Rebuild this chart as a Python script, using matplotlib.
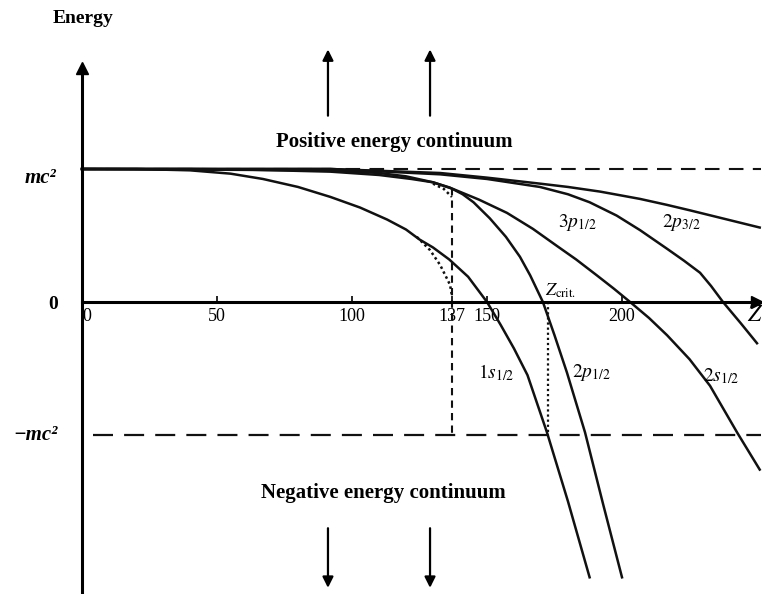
import numpy as np
import matplotlib
matplotlib.use('Agg')
import matplotlib.pyplot as plt

plt.rcParams['font.family'] = ['Liberation Serif', 'DejaVu Serif']
plt.rcParams['mathtext.fontset'] = 'stix'

# bound states (Z, E in units of mc^2)
z_1s = [0, 20, 40, 55, 67, 80, 92, 103, 113, 120, 125, 130, 136, 143, 150, 155, 160, 165, 172.2, 180, 188]
e_1s = [1.0, 1.0, 0.99, 0.965, 0.925, 0.865, 0.79, 0.71, 0.62, 0.545, 0.47, 0.41, 0.32, 0.19, 0.0,
        -0.17, -0.35, -0.55, -0.98, -1.5, -2.07]

z_2p1 = [0, 40, 62, 92, 110, 122, 130, 136.3, 141, 145, 151, 157, 162.2, 166, 170.7, 175, 179.6, 186.3, 193, 200]
e_2p1 = [1.0, 1.0, 0.995, 0.98, 0.955, 0.925, 0.9, 0.86, 0.81, 0.75, 0.63, 0.49, 0.34, 0.2, 0.0,
         -0.25, -0.53, -0.98, -1.52, -2.07]

z_2s = [0, 92, 110, 120, 130, 137.4, 147, 157.4, 167, 176, 183, 190.7, 197, 203, 210, 216.7, 225, 232.6, 242.6, 251]
e_2s = [1.0, 0.99, 0.97, 0.945, 0.9, 0.85, 0.77, 0.67, 0.55, 0.42, 0.32, 0.2, 0.1, 0.0,
        -0.12, -0.25, -0.43, -0.63, -0.98, -1.26]

z_3p1 = [0, 92, 132.6, 150, 169.6, 180, 188, 198, 206.7, 216.7, 223, 228.9, 233, 237.4, 244, 250]
e_3p1 = [1.0, 1.0, 0.96, 0.925, 0.865, 0.81, 0.75, 0.65, 0.54, 0.40, 0.31, 0.22, 0.12, 0.0, -0.16, -0.31]

z_2p3 = [0, 92, 132.6, 150, 169.6, 180, 191.9, 200, 206.7, 216.7, 225, 235, 243, 251]
e_2p3 = [1.0, 1.0, 0.97, 0.935, 0.89, 0.865, 0.83, 0.80, 0.775, 0.73, 0.69, 0.64, 0.6, 0.56]

# point-nucleus (Sommerfeld) ends, dotted
z_1s_pt = [124, 128.9, 132.6, 136.3, 137]
e_1s_pt = [0.49, 0.39, 0.28, 0.13, 0.05]
z_2p_pt = [130, 134, 137]
e_2p_pt = [0.89, 0.85, 0.79]

z_alpha = 137
z_crit = 172.6

tick_z = [0, 50, 100, 137, 150, 200]
tick_lbl = ['0', '50', '100', '137', '150', '200']

fig = plt.figure(figsize=(7.62, 5.94), dpi=100)
ax = fig.add_axes([0, 0, 1, 1])
ax.set_xlim(-30.37, 251.85)
ax.set_ylim(-2.1955, 2.2707)

col = '#111111'
lw = 1.8
ax.plot(z_1s, e_1s, color=col, lw=lw)
ax.plot(z_2p1, e_2p1, color=col, lw=lw)
ax.plot(z_2s, e_2s, color=col, lw=lw)
ax.plot(z_3p1, e_3p1, color=col, lw=lw)
ax.plot(z_2p3, e_2p3, color=col, lw=lw)
ax.plot(z_1s_pt, e_1s_pt, color=col, lw=1.8, ls=(0, (1, 1.2)))
ax.plot(z_2p_pt, e_2p_pt, color=col, lw=1.8, ls=(0, (1, 1.2)))

# continuum edges
ax.plot([0, 251.5], [1, 1], color=col, lw=1.5, dashes=(7, 4.5))
ax.plot([4, 251.5], [-1, -1], color=col, lw=1.6, dashes=(9, 5))
ax.plot([z_alpha, z_alpha], [0.86, -1], color=col, lw=1.5, dashes=(3.5, 2.5))
ax.plot([z_crit, z_crit], [0, -1], color=col, lw=1.6, ls=(0, (1, 1.3)))

# axes through the origin
for s in ['top', 'right']:
    ax.spines[s].set_visible(False)
ax.spines['left'].set_position(('data', 0))
ax.spines['bottom'].set_position(('data', 0))
ax.spines['left'].set_bounds(-2.2, 1.74)
ax.spines['bottom'].set_bounds(0, 249)
ax.spines['left'].set_linewidth(2.2)
ax.spines['bottom'].set_linewidth(2.2)
ax.plot(0, 1.76, marker='^', color='k', ms=8, clip_on=False)
ax.plot(250, 0, marker='>', color='k', ms=8, clip_on=False)

ax.set_xticks(tick_z, tick_lbl)
ax.tick_params(axis='x', direction='in', length=4, width=1.2, pad=4, labelsize=13)
ax.get_xticklabels()[0].set_ha('left')
ax.set_yticks([])

# arrows to the continua
for zz in [91.1, 128.9]:
    ax.annotate('', xy=(zz, 1.92), xytext=(zz, 1.38),
                arrowprops=dict(arrowstyle='-|>', lw=1.6, color='k', mutation_scale=16))
    ax.annotate('', xy=(zz, -2.17), xytext=(zz, -1.68),
                arrowprops=dict(arrowstyle='-|>', lw=1.6, color='k', mutation_scale=16))

ax.text(0.4, 2.135, 'Energy', ha='center', va='center', fontsize=14, fontweight='bold')
ax.text(115.5, 1.203, 'Positive energy continuum', ha='center', va='center',
        fontsize=15, fontweight='bold')
ax.text(111.5, -1.436, 'Negative energy continuum', ha='center', va='center',
        fontsize=15, fontweight='bold')
ax.text(-15.2, 0.93, 'mc²', ha='center', va='center', fontsize=15,
        fontweight='bold', fontstyle='italic')
ax.text(-10.7, -0.02, '0', ha='center', va='center', fontsize=14, fontweight='bold')
ax.text(-17.4, -1.0, '\u2212mc²', ha='center', va='center', fontsize=15,
        fontweight='bold', fontstyle='italic')
ax.text(249.3, -0.1, r'$Z$', ha='center', va='center', fontsize=17)
ax.text(177.4, 0.083, r'$Z_{\rm crit.}$', ha='center', va='center', fontsize=13)
ax.text(183.3, 0.60, r'$3p_{1/2}$', ha='center', va='center', fontsize=14)
ax.text(221.9, 0.60, r'$2p_{3/2}$', ha='center', va='center', fontsize=14)
ax.text(153.3, -0.53, r'$1s_{1/2}$', ha='center', va='center', fontsize=14)
ax.text(188.5, -0.53, r'$2p_{1/2}$', ha='center', va='center', fontsize=14)
ax.text(236.7, -0.56, r'$2s_{1/2}$', ha='center', va='center', fontsize=14)

fig.savefig('out.png', dpi=100)
